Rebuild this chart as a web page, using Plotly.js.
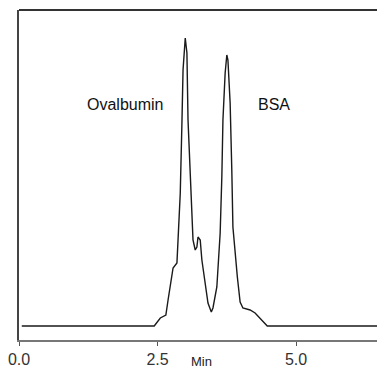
<!DOCTYPE html>
<html>
<head>
<meta charset="utf-8">
<script src="https://cdn.plot.ly/plotly-3.0.1.min.js"></script>
<style>html,body{margin:0;padding:0;background:#fff;}</style>
</head>
<body>
<div id="chart" style="width:377px;height:371px;"></div>
<script>
// Retention time (min)
var timeMin = [0.05, 2.44, 2.55, 2.65, 2.69, 2.78, 2.85, 2.87, 2.91, 2.94, 2.96, 3.00, 3.03, 3.05, 3.09, 3.12, 3.14, 3.18, 3.21, 3.23, 3.27, 3.30, 3.36, 3.41, 3.47, 3.50, 3.57, 3.63, 3.66, 3.68, 3.72, 3.75, 3.77, 3.81, 3.84, 3.86, 3.94, 3.99, 4.04, 4.17, 4.26, 4.35, 4.48, 6.46];
// Detector signal (arbitrary units)
var signal = [0, 0, 8, 11, 26, 58, 63, 93, 133, 203, 256, 288, 273, 206, 149, 113, 86, 76, 79, 89, 86, 66, 43, 23, 14, 18, 39, 93, 149, 206, 253, 271, 266, 223, 156, 99, 49, 24, 18, 16, 13, 8, 0, 0];
// Peak labels
var peakNames = ["Ovalbumin", "BSA"];
var peakLabelX = [1.91, 4.60];
var peakLabelY = [222, 222];
// Axis ticks
var tickVals = [0, 2.5, 5.0];
var tickText = ["0.0", "2.5", "5.0"];

var trace = {
  x: timeMin, y: signal, type: 'scatter', mode: 'lines',
  line: {color: '#1a1a1a', width: 1.4}, hoverinfo: 'none'
};

var annotations = peakNames.map(function(n, i) {
  return {x: peakLabelX[i], y: peakLabelY[i], xref: 'x', yref: 'y', text: n, showarrow: false,
    font: {family: 'Liberation Sans, Arial, sans-serif', size: 16, color: '#111'}};
});
annotations.push({x: 0.51, y: -0.066, xref: 'paper', yref: 'paper', text: 'Min', showarrow: false,
  xanchor: 'center', yanchor: 'middle',
  font: {family: 'Liberation Sans, Arial, sans-serif', size: 13, color: '#222'}});

var layout = {
  width: 377, height: 371,
  margin: {l: 19, r: 0, t: 10, b: 31, pad: 0},
  paper_bgcolor: '#fff', plot_bgcolor: '#fff',
  showlegend: false,
  xaxis: {
    range: [0, 6.46], tickvals: tickVals, ticktext: tickText,
    ticks: 'outside', ticklen: 4, tickwidth: 1, tickcolor: '#555',
    showgrid: false, zeroline: false, showline: true, linecolor: '#777', linewidth: 1.5,
    tickfont: {family: 'Liberation Sans Narrow, Arial Narrow, sans-serif', size: 16, color: '#333'},
    fixedrange: true
  },
  yaxis: {
    range: [-14, 316], showticklabels: false, ticks: '', showgrid: false, zeroline: false,
    showline: true, linecolor: '#444', linewidth: 2, fixedrange: true
  },
  shapes: [{type: 'line', xref: 'paper', yref: 'paper', x0: 0, x1: 1, y0: 1, y1: 1,
    line: {color: '#333', width: 2}}],
  annotations: annotations
};

Plotly.newPlot('chart', [trace], layout, {displayModeBar: false, staticPlot: true});
</script>
</body>
</html>
